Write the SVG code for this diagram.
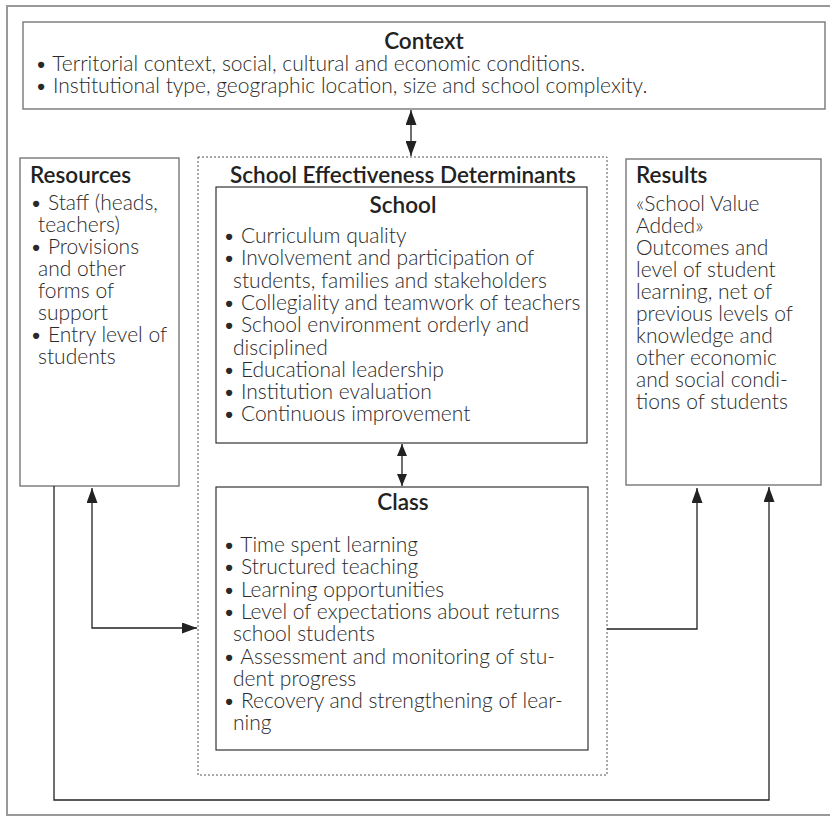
<svg xmlns="http://www.w3.org/2000/svg" width="830" height="816" viewBox="0 0 830 816">
<style>
text{font-family:Lato,"Open Sans","Liberation Sans",sans-serif;font-size:21px;font-weight:300;fill:#2a2a2a}
.t{font-size:22.5px;font-weight:600;fill:#222}
.c{text-anchor:middle}
.box{fill:none;stroke:#777;stroke-width:1.4}
.ibox{fill:none;stroke:#333;stroke-width:1.2}
.dot{fill:none;stroke:#555;stroke-width:1;stroke-dasharray:2 2}
.frame{fill:none;stroke:#999;stroke-width:2}
.con{fill:none;stroke:#222;stroke-width:1.3}
</style>
<defs>
<marker id="ah" viewBox="0 0 15 11" refX="15" refY="5.5" markerWidth="15" markerHeight="11" markerUnits="userSpaceOnUse" orient="auto-start-reverse"><path d="M0,0 L15,5.5 L0,11 z" fill="#222"/></marker>
<marker id="ahs" viewBox="0 0 12 10" refX="12" refY="5" markerWidth="12" markerHeight="10" markerUnits="userSpaceOnUse" orient="auto-start-reverse"><path d="M0,0 L12,5 L0,10 z" fill="#222"/></marker>
</defs>
<rect width="830" height="816" fill="#fff"/>
<rect class="frame" x="7" y="6" width="840" height="809"/>

<g id="context">
<rect class="box" x="23" y="22" width="802" height="87"/>
<text class="t c" x="424" y="49">Context</text>
<text><tspan x="35" y="71">• Territorial context, social, cultural and economic conditions.</tspan><tspan x="35" y="93">• Institutional type, geographic location, size and school complexity.</tspan></text>
</g>

<g id="resources">
<rect class="box" x="20" y="158" width="159" height="328"/>
<text class="t" x="30" y="183">Resources</text>
<text><tspan x="30" y="210">• Staff (heads,</tspan><tspan x="38" y="232">teachers)</tspan><tspan x="30" y="254">• Provisions</tspan><tspan x="38" y="276">and other</tspan><tspan x="38" y="298">forms of</tspan><tspan x="38" y="320">support</tspan><tspan x="30" y="342">• Entry level of</tspan><tspan x="38" y="364">students</tspan></text>
</g>

<g id="determinants">
<rect class="dot" x="198" y="157" width="409" height="618"/>
<text class="t c" x="403" y="183">School Effectiveness Determinants</text>
</g>

<g id="school">
<rect class="ibox" x="216" y="187" width="371" height="256"/>
<text class="t c" x="403" y="213">School</text>
<text><tspan x="223" y="243">• Curriculum quality</tspan><tspan x="223" y="265.3">• Involvement and participation of</tspan><tspan x="233" y="287.6">students, families and stakeholders</tspan><tspan x="223" y="309.9">• Collegiality and teamwork of teachers</tspan><tspan x="223" y="332.2">• School environment orderly and</tspan><tspan x="233" y="354.5">disciplined</tspan><tspan x="223" y="376.8">• Educational leadership</tspan><tspan x="223" y="399.1">• Institution evaluation</tspan><tspan x="223" y="421.4">• Continuous improvement</tspan></text>
</g>

<g id="class">
<rect class="ibox" x="216" y="487" width="372" height="263"/>
<text class="t c" x="403" y="510">Class</text>
<text><tspan x="223" y="552">• Time spent learning</tspan><tspan x="223" y="574.3">• Structured teaching</tspan><tspan x="223" y="596.6">• Learning opportunities</tspan><tspan x="223" y="618.9">• Level of expectations about returns</tspan><tspan x="233" y="641.2">school students</tspan><tspan x="223" y="663.5">• Assessment and monitoring of stu-</tspan><tspan x="233" y="685.8">dent progress</tspan><tspan x="223" y="708.1">• Recovery and strengthening of lear-</tspan><tspan x="233" y="730.4">ning</tspan></text>
</g>

<g id="results">
<rect class="box" x="626" y="159" width="195" height="326"/>
<text class="t" x="636" y="183">Results</text>
<text><tspan x="636" y="211">«School Value</tspan><tspan x="636" y="233">Added»</tspan><tspan x="636" y="255">Outcomes and</tspan><tspan x="636" y="277">level of student</tspan><tspan x="636" y="299">learning, net of</tspan><tspan x="636" y="321">previous levels of</tspan><tspan x="636" y="343">knowledge and</tspan><tspan x="636" y="365">other economic</tspan><tspan x="636" y="387">and social condi-</tspan><tspan x="636" y="409">tions of students</tspan></text>
</g>

<g id="connectors">
<path class="con" d="M411,110 V156" marker-start="url(#ah)" marker-end="url(#ah)"/>
<path class="con" d="M402,444 V486" marker-start="url(#ahs)" marker-end="url(#ahs)"/>
<path class="con" d="M92,488 V628 H197" marker-start="url(#ah)" marker-end="url(#ah)"/>
<path class="con" d="M54,486 V800 H769 V487" marker-end="url(#ah)"/>
<path class="con" d="M607,629 H697 V488" marker-end="url(#ah)"/>
</g>
</svg>
